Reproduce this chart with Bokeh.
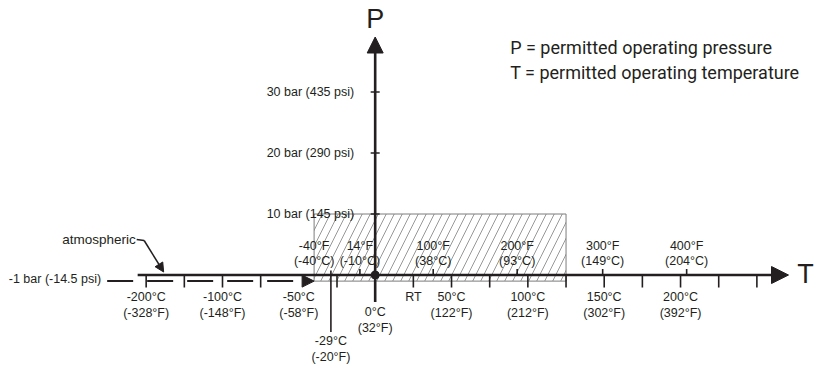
from bokeh.plotting import figure
from bokeh.models import Arrow, NormalHead, Range1d
from bokeh.core.properties import value
from bokeh.embed import file_html
from bokeh.resources import INLINE
import numpy as np

# ---------------- data ----------------
# Celsius tick labels below the T axis (true degrees C)
c_vals = [-200, -100, -50, 50, 100, 150, 200]
c_line1 = ["-200°C", "-100°C", "-50°C", "50°C", "100°C", "150°C", "200°C"]
c_line2 = ["(-328°F)", "(-148°F)", "(-58°F)", "(122°F)", "(212°F)", "(302°F)", "(392°F)"]
# unlabeled minor ticks below the axis (true degrees C)
minor_ticks = [-200, -150, -100, -75, -25, 25, 50, 75, 100, 125, 150, 175, 200, 225, 250]
# Fahrenheit labels above the axis, positioned at their Celsius value
f_vals = [-40, -10, 38, 93, 149, 204]
f_line1 = ["-40°F", "14°F", "100°F", "200°F", "300°F", "400°F"]
f_line2 = ["(-40°C)", "(-10°C)", "(38°C)", "(93°C)", "(149°C)", "(204°C)"]
f_ticks = [-10, 38, 93, 149, 204]
# special temperatures
zero_c = 0
zero_lbl = ["0°C", "(32°F)"]
low_c = -29
low_lbl = ["-29°C", "(-20°F)"]
rt_c = 25
# pressure axis
p_vals = [10, 20, 30]
p_labels = ["10 bar (145 psi)", "20 bar (290 psi)", "30 bar (435 psi)"]
atm_p = -1
atm_label = "-1 bar (-14.5 psi)"
# permitted operating window
t_min, t_max = -40, 125
p_min, p_max = -1, 10
legend = ["P = permitted operating pressure", "T = permitted operating temperature"]

# broken axis: -200..-100 compressed by 2
def disp(t):
    return np.interp(np.asarray(t, dtype=float), [-200, -100, 400], [-150, -100, 400])

# ---------------- figure ----------------
W, H = 817, 367
XR = (-245.4, 289.7)
YR = (-15.16, 45.0)
pxc = W / (XR[1] - XR[0])   # px per degC
pxb = H / (YR[1] - YR[0])   # px per bar
dx = lambda px: px / pxc
dy = lambda px: px / pxb

p = figure(width=W, height=H, x_range=Range1d(*XR), y_range=Range1d(*YR),
           output_backend="svg", toolbar_location=None,
           x_axis_type=None, y_axis_type=None, min_border=0)
p.grid.visible = False
p.outline_line_color = None
p.background_fill_color = "white"

INK = "#231f20"
GRAY = "#7d7d7d"
FONT = value("Liberation Sans")
FS = "12.5px"

# hatched operating window
p.quad(left=[t_min], right=[t_max], bottom=[p_min], top=[p_max],
       fill_color=None, line_color=GRAY, line_width=1,
       hatch_pattern="/", hatch_color=GRAY, hatch_scale=16, hatch_weight=0.8)

# minor ticks below the T axis
mt = disp(minor_ticks)
p.segment(x0=mt, y0=[0]*len(mt), x1=mt, y1=[-dy(12.5)]*len(mt), line_color=INK, line_width=1.6)
# Fahrenheit ticks above the axis
p.segment(x0=f_ticks, y0=[0]*len(f_ticks), x1=f_ticks, y1=[dy(6)]*len(f_ticks), line_color=INK, line_width=1.6)
# -29 C line
p.segment(x0=[low_c], y0=[dy(4.5)], x1=[low_c], y1=[-dy(57)], line_color=INK, line_width=1.6)

# atmospheric (-1 bar) dashed line with arrow into window
x_atm_start = float(disp(-200)) - dx(39)
p.add_layout(Arrow(x_start=x_atm_start, y_start=atm_p, x_end=t_min, y_end=atm_p,
                   line_color=INK, line_width=2, line_dash="26 14",
                   end=NormalHead(size=12, fill_color=INK, line_color=INK, line_width=1)))

# main T axis
p.add_layout(Arrow(x_start=float(disp(-200)) - dx(8.5), y_start=0, x_end=XR[1] - dx(29), y_end=0,
                   line_color=INK, line_width=2.6,
                   end=NormalHead(size=17, fill_color=INK, line_color=INK, line_width=1)))
# main P axis
p.add_layout(Arrow(x_start=zero_c, y_start=-dy(27), x_end=zero_c, y_end=YR[1] - dy(36.5),
                   line_color=INK, line_width=2.6,
                   end=NormalHead(size=16, fill_color=INK, line_color=INK, line_width=1)))
# P ticks
p.scatter(x=[0]*len(p_vals), y=p_vals, marker="dash", size=9, line_color=INK, line_width=1.5)
# origin dot
p.scatter(x=[0], y=[0], marker="circle", size=8, fill_color=INK, line_color=INK)

# atmospheric leader
xa = float(disp(-200))
p.line(x=[xa - dx(9.5), xa - dx(2)], y=[dy(35.5), dy(34.5)], line_color=INK, line_width=1.5)
p.add_layout(Arrow(x_start=xa - dx(2), y_start=dy(34.5), x_end=xa + dx(17.5), y_end=dy(3),
                   line_color=INK, line_width=1.5,
                   end=NormalHead(size=9, fill_color=INK, line_color=INK, line_width=1)))

def txt(x, y, t, xo=0, yo=0, align="center", size=FS, font=FONT, color=INK):
    n = len(t)
    xo = list(xo) if isinstance(xo, (list, tuple)) else [xo] * n
    yo = list(yo) if isinstance(yo, (list, tuple)) else [yo] * n
    p.text(x=[float(v) for v in x], y=[float(v) for v in y], text=list(t),
           x_offset=xo, y_offset=yo,
           text_align=align, text_baseline="middle", text_font=font,
           text_font_size=size, text_color=color)

cx = disp(c_vals)
txt(cx, [0]*len(cx), c_line1, yo=21.5)
txt(cx, [0]*len(cx), c_line2, yo=37.5)
txt([rt_c], [0], ["RT"], yo=21.5)
txt([zero_c], [0], [zero_lbl[0]], yo=36.5)
txt([zero_c], [0], [zero_lbl[1]], yo=52.5)
txt([low_c], [0], [low_lbl[0]], yo=66)
txt([low_c], [0], [low_lbl[1]], yo=82)
txt(f_vals, [0]*len(f_vals), f_line1, yo=-29.5)
txt(f_vals, [0]*len(f_vals), f_line2, yo=-14)

# pressure labels
txt([0]*len(p_vals), p_vals, p_labels, xo=-21, align="right")
txt([x_atm_start], [atm_p], [atm_label], xo=-6, yo=-2, align="right")
txt([xa - dx(9.5)], [dy(35.5)], ["atmospheric"], xo=-1, align="right", size="13.5px")

# axis names
txt([zero_c], [YR[1]], ["P"], yo=18, size="27px")
txt([XR[1]], [0], ["T"], xo=-12, yo=-1, size="27px")

# legend text
txt([zero_c, zero_c], [YR[1], YR[1]], legend, xo=135, yo=[47, 72], align="left",
    size="18px", font=value("Roboto"))

open("out.html", "w").write(file_html(p, INLINE))
